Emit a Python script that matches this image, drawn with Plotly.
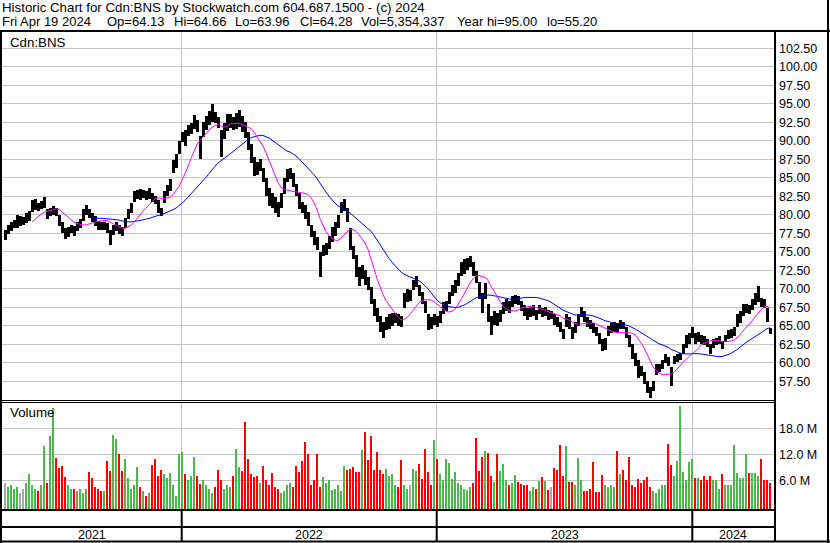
import plotly.graph_objects as go
import pandas as pd

W, H = 830, 543

# ---------------- text ----------------
title_line = "Historic Chart for Cdn:BNS by Stockwatch.com 604.687.1500 - (c) 2024"
quote_items = ["Fri Apr 19 2024", "Op=64.13", "Hi=64.66", "Lo=63.96", "Cl=64.28",
               "Vol=5,354,337", "Year hi=95.00", "lo=55.20"]
symbol_label = "Cdn:BNS"
volume_label = "Volume"

# ---------------- data (one entry per 3 trading days, Apr 2021 .. Apr 19 2024) ----------------
price_low = [
    76.6, 77.4, 77.8, 78.2, 78.3, 78.5, 78.6, 78.9, 79.2, 80.4,
    80.7, 80.6, 80.8, 81.0, 79.4, 79.8, 80.0, 79.9, 78.5, 77.6,
    76.7, 77.0, 77.5, 77.2, 77.8, 78.3, 79.2, 80.0, 79.6, 79.0,
    78.5, 78.0, 77.9, 78.0, 77.6, 76.0, 77.3, 77.8, 77.4, 77.2,
    78.2, 79.4, 80.3, 81.8, 82.2, 82.0, 82.3, 82.0, 82.2, 81.8,
    81.5, 80.2, 79.8, 81.6, 82.6, 83.2, 85.6, 86.4, 88.2, 89.8,
    89.3, 90.6, 91.0, 91.6, 91.2, 87.6, 90.5, 91.5, 92.2, 92.6,
    92.4, 91.8, 87.8, 90.2, 91.4, 91.8, 91.5, 91.6, 91.9, 91.2,
    90.4, 88.8, 87.0, 85.2, 85.4, 86.0, 84.5, 82.6, 81.2, 81.0,
    80.2, 79.7, 81.0, 82.8, 84.4, 84.8, 83.8, 82.6, 80.8, 80.2,
    79.4, 78.5, 77.0, 76.0, 75.2, 71.6, 74.4, 74.6, 75.4, 76.4,
    77.2, 78.2, 80.2, 80.6, 79.0, 75.2, 74.0, 71.6, 70.4, 71.4,
    70.6, 69.8, 68.0, 66.4, 65.6, 64.2, 63.4, 64.4, 64.6, 65.0,
    65.4, 65.0, 64.8, 67.4, 68.2, 68.4, 69.8, 70.2, 69.0, 68.0,
    66.8, 64.4, 64.6, 65.2, 64.8, 65.4, 66.6, 67.0, 68.0, 69.0,
    69.4, 70.4, 71.8, 72.0, 72.6, 73.0, 71.8, 70.8, 68.6, 66.8,
    68.6, 65.6, 63.8, 65.2, 65.0, 65.6, 66.6, 67.0, 66.8, 67.6,
    68.0, 67.8, 67.0, 66.4, 65.8, 66.2, 66.4, 65.8, 66.6, 66.2,
    66.4, 65.8, 66.0, 65.2, 64.8, 64.2, 63.2, 64.8, 64.6, 63.2,
    64.0, 65.0, 66.2, 65.6, 64.8, 64.6, 64.0, 63.6, 62.6, 61.6,
    61.8, 63.6, 64.0, 64.2, 64.0, 64.6, 64.6, 63.4, 62.2, 60.6,
    59.6, 58.0, 58.2, 57.2, 56.0, 55.3, 56.2, 58.4, 58.8, 59.2,
    60.0, 59.6, 56.9, 59.8, 60.2, 60.4, 61.2, 62.0, 62.6, 63.4,
    62.6, 62.8, 62.6, 62.4, 62.2, 61.2, 62.0, 62.4, 62.6, 61.9,
    62.8, 63.2, 63.4, 63.6, 64.8, 65.4, 66.4, 66.8, 66.6, 67.2,
    67.8, 68.2, 67.6, 67.4, 65.6, 63.96,
]
price_high = [
    77.9, 78.6, 79.0, 79.3, 80.0, 79.8, 79.7, 80.2, 80.6, 82.0,
    82.2, 81.6, 81.9, 82.4, 80.8, 81.0, 81.2, 81.0, 80.0, 79.0,
    78.2, 78.4, 78.6, 78.5, 79.0, 79.5, 80.8, 81.4, 80.8, 80.3,
    79.8, 79.2, 79.0, 79.1, 78.9, 78.0, 78.6, 79.1, 78.6, 78.4,
    79.6, 80.8, 81.6, 83.2, 83.4, 83.5, 83.4, 83.2, 83.6, 83.0,
    82.6, 82.0, 81.0, 83.2, 84.0, 84.8, 87.4, 88.2, 90.0, 91.2,
    91.5, 92.2, 92.4, 93.5, 92.8, 90.6, 92.6, 93.4, 94.0, 95.0,
    93.9, 93.3, 91.5, 92.4, 93.6, 93.6, 93.2, 93.8, 94.2, 93.4,
    92.6, 91.2, 89.6, 87.8, 87.2, 87.6, 86.4, 85.0, 83.6, 83.0,
    82.4, 81.8, 83.0, 85.0, 86.2, 86.4, 85.6, 84.2, 83.0, 81.8,
    81.4, 80.4, 78.6, 77.8, 77.0, 75.0, 76.0, 76.2, 77.2, 78.4,
    79.0, 80.0, 81.8, 82.2, 81.0, 78.2, 75.8, 74.6, 73.0, 73.2,
    72.6, 71.6, 70.2, 68.6, 67.4, 66.4, 65.6, 66.2, 66.6, 66.8,
    66.8, 66.6, 66.4, 69.4, 70.0, 69.8, 71.2, 71.8, 70.6, 69.6,
    68.4, 66.6, 66.2, 66.6, 66.4, 67.0, 68.2, 68.4, 69.6, 70.6,
    71.2, 72.2, 73.6, 74.0, 74.2, 74.4, 73.6, 72.4, 71.0, 69.4,
    70.8, 68.0, 66.4, 67.0, 66.8, 67.2, 68.2, 68.6, 68.4, 69.0,
    69.2, 69.0, 68.4, 67.8, 67.4, 67.6, 67.8, 67.2, 67.8, 67.4,
    67.6, 67.2, 67.0, 66.6, 66.2, 65.6, 64.6, 66.6, 66.2, 64.8,
    65.6, 66.6, 67.6, 67.0, 66.2, 65.8, 65.4, 64.8, 64.0, 63.2,
    63.4, 65.0, 65.4, 65.6, 65.4, 65.8, 65.6, 64.8, 63.8, 62.6,
    61.4, 60.4, 59.6, 58.8, 57.6, 56.8, 57.6, 59.8, 59.8, 60.4,
    61.2, 60.8, 59.4, 61.0, 61.2, 61.4, 62.6, 63.8, 64.0, 64.8,
    64.0, 64.2, 63.8, 63.6, 63.2, 62.6, 63.2, 63.4, 63.6, 63.0,
    63.8, 64.4, 64.6, 64.8, 66.6, 67.0, 68.0, 68.0, 67.8, 68.6,
    69.4, 70.4, 68.8, 68.6, 67.4, 64.66,
]
volume_m = [
    5.5, 4.5, 5.0, 4.0, 4.5, 3.0, 4.0, 5.5, 7.6, 5.0,
    4.0, 3.5, 5.0, 14.0, 5.5, 16.3, 22.7, 11.3, 8.9, 9.3,
    6.7, 5.0, 4.0, 4.0, 3.5, 4.0, 3.0, 4.0, 8.0, 6.5,
    4.5, 4.0, 3.5, 3.5, 10.4, 8.1, 16.5, 15.6, 12.0, 8.1,
    11.0, 6.5, 4.0, 5.0, 9.0, 4.5, 3.5, 2.5, 3.0, 9.6,
    11.0, 7.0, 8.5, 7.4, 6.5, 7.8, 5.0, 2.5, 12.0, 12.6,
    7.4, 6.0, 7.0, 11.5, 7.0, 5.2, 6.0, 5.0, 4.0, 3.0,
    4.5, 8.3, 6.0, 4.0, 5.0, 4.5, 7.0, 13.2, 9.0, 8.1,
    19.6, 11.0, 7.4, 6.7, 7.0, 5.5, 9.3, 6.0, 5.0, 7.8,
    4.5, 4.0, 3.0, 3.5, 5.0, 5.5, 4.5, 9.3, 8.0, 10.4,
    15.0, 12.2, 5.0, 6.0, 12.0, 4.5, 6.7, 5.5, 6.0, 3.7,
    4.0, 5.0, 3.5, 9.3, 8.5, 8.7, 9.0, 8.0, 8.0, 13.0,
    17.2, 10.7, 16.3, 8.5, 12.6, 8.5, 7.5, 8.6, 7.1, 7.5,
    5.0, 4.5, 10.7, 5.0, 4.0, 5.0, 8.6, 8.2, 9.8, 6.4,
    13.2, 8.0, 5.0, 15.4, 10.9, 7.5, 6.0, 10.9, 10.0, 6.4,
    7.9, 5.3, 5.0, 4.0, 3.8, 4.5, 5.5, 15.9, 8.2, 11.4,
    12.9, 12.4, 7.1, 5.6, 12.2, 8.1, 9.8, 6.0, 5.0, 5.5,
    7.3, 5.6, 5.2, 5.0, 4.9, 3.5, 4.5, 4.0, 5.9, 6.9,
    5.9, 3.8, 4.5, 8.9, 8.3, 14.3, 7.0, 13.9, 5.6, 5.6,
    5.0, 11.1, 6.0, 3.5, 3.5, 4.0, 10.2, 3.4, 3.4, 7.3,
    5.0, 4.5, 5.0, 4.5, 12.9, 7.5, 8.3, 6.0, 11.5, 5.0,
    4.5, 6.4, 5.3, 6.0, 6.8, 4.5, 3.5, 3.0, 4.0, 5.0,
    5.0, 14.5, 9.6, 7.1, 10.5, 23.3, 7.9, 6.0, 10.2, 10.9,
    6.6, 6.6, 6.0, 7.0, 6.0, 7.0, 6.0, 6.0, 4.0, 7.4,
    5.0, 5.0, 5.0, 14.3, 7.7, 6.5, 6.5, 12.0, 7.8, 7.8,
    7.8, 7.0, 10.9, 6.2, 6.2, 5.3,
]

year_labels = ["2021", "2022", "2023", "2024"]
year_bounds = [58.9, 143.9, 229.1]          # sample index where a new year begins
price_ticks = [57.5, 60.0, 62.5, 65.0, 67.5, 70.0, 72.5, 75.0, 77.5, 80.0,
               82.5, 85.0, 87.5, 90.0, 92.5, 95.0, 97.5, 100.0, 102.5]
vol_ticks = [6, 12, 18]
vol_tick_text = ["6.0 M", "12.0 M", "18.0 M"]

# ---------------- derived ----------------
n = len(price_low)
idx = list(range(n))
mid = pd.Series([(a + b) / 2 for a, b in zip(price_low, price_high)])
ma_fast = mid.rolling(10).mean()
ma_slow = mid.rolling(30).mean()
hl = [b - a for a, b in zip(price_low, price_high)]

GREEN, RED, GRAY = "#4cb84c", "#ff0000", "#a8a8a8"
vol_colors = []
for i in range(n):
    if i == 0 or mid[i] == mid[i - 1]:
        vol_colors.append(GRAY)
    elif mid[i] > mid[i - 1]:
        vol_colors.append(GREEN)
    else:
        vol_colors.append(RED)

X_LEFT, X_RIGHT = -1, n + 0.33
VOL_BASE = -0.6

def fx(px):
    return px / W

def fy(py):
    return 1 - py / H

FONT = "Liberation Sans, Arial, sans-serif"
GRID = "#c4c4c4"

fig = go.Figure()
fig.add_trace(go.Bar(x=idx, y=hl, base=price_low, width=1.0,
                     marker=dict(color="black", line=dict(width=0)),
                     xaxis="x", yaxis="y", hoverinfo="skip"))
fig.add_trace(go.Scatter(x=idx, y=ma_slow, mode="lines",
                         line=dict(color="#0000ff", width=1),
                         xaxis="x", yaxis="y", hoverinfo="skip"))
fig.add_trace(go.Scatter(x=idx, y=ma_fast, mode="lines",
                         line=dict(color="#ff00ff", width=1),
                         xaxis="x", yaxis="y", hoverinfo="skip"))
fig.add_trace(go.Bar(x=idx, y=[v - VOL_BASE for v in volume_m], base=VOL_BASE, width=0.85,
                     marker=dict(color=vol_colors, line=dict(width=0)),
                     xaxis="x2", yaxis="y2", hoverinfo="skip"))

xdom = [fx(2), fx(774)]
xcommon = dict(domain=xdom, range=[X_LEFT, X_RIGHT], showticklabels=False,
               tickvals=year_bounds, showgrid=True, gridcolor=GRID, gridwidth=1,
               zeroline=False, ticks="", showline=False, fixedrange=True)

fig.update_layout(
    width=W, height=H,
    margin=dict(l=0, r=0, t=0, b=0),
    paper_bgcolor="white", plot_bgcolor="white",
    showlegend=False, barmode="overlay", bargap=0,
    font=dict(family=FONT, size=13, color="black"),
    xaxis=dict(anchor="y", **xcommon),
    xaxis2=dict(anchor="y2", **xcommon),
    yaxis=dict(domain=[fy(400), fy(31)], range=[55.0, 104.85], side="right",
               tickvals=price_ticks, tickformat=".2f", showgrid=True, gridcolor=GRID,
               zeroline=False, ticks="", showline=False, ticklabelstandoff=4,
               tickfont=dict(family=FONT, size=12.5, color="black"), fixedrange=True),
    yaxis2=dict(domain=[fy(509), fy(403)], range=[VOL_BASE, 23.9], side="right",
                tickvals=vol_ticks, ticktext=vol_tick_text, showgrid=True, gridcolor=GRID,
                zeroline=False, ticks="", showline=False, ticklabelstandoff=4,
                tickfont=dict(family=FONT, size=12.5, color="black"), fixedrange=True),
)

# ---------------- frame lines ----------------
def hline(py, x0, x1, w):
    return dict(type="line", xref="paper", yref="paper", x0=fx(x0), x1=fx(x1),
                y0=fy(py), y1=fy(py), line=dict(color="black", width=w))

def vline(px, y0, y1, w):
    return dict(type="line", xref="paper", yref="paper", x0=fx(px), x1=fx(px),
                y0=fy(y0), y1=fy(y1), line=dict(color="black", width=w))

shapes = [
    hline(31, 0, 830, 2),
    hline(400.5, 0, 775, 1),
    hline(402.5, 0, 775, 1),
    hline(510, 0, 775, 2),
    hline(527, 0, 775, 2),
    hline(541.5, 0, 830, 2),
    vline(1, 31, 543, 2),
    vline(775, 31, 542, 2),
    vline(828, 0, 543, 2),
]
for b in year_bounds:
    shapes.append(dict(type="line", xref="x2", yref="paper", x0=b, x1=b,
                       y0=fy(511), y1=fy(541), line=dict(color="black", width=2)))
fig.update_layout(shapes=shapes)

# ---------------- annotations ----------------
HDR = 13.0
ann = []
ann.append(dict(text=title_line, x=fx(1), y=fy(8), xref="paper", yref="paper",
                xanchor="left", yanchor="middle", showarrow=False, borderpad=0,
                font=dict(family=FONT, size=13.3, color="black")))
quote_x = [1, 106, 173, 234, 299, 360, 456, 546]
for t, qx in zip(quote_items, quote_x):
    ann.append(dict(text=t, x=fx(qx), y=fy(21), xref="paper", yref="paper",
                    xanchor="left", yanchor="middle", showarrow=False, borderpad=0,
                    font=dict(family=FONT, size=HDR, color="black")))
ann.append(dict(text=symbol_label, x=fx(8), y=fy(42), xref="paper", yref="paper",
                xanchor="left", yanchor="middle", showarrow=False,
                font=dict(family=FONT, size=13.3, color="black")))
ann.append(dict(text=volume_label, x=fx(8), y=fy(413), xref="paper", yref="paper",
                xanchor="left", yanchor="middle", showarrow=False,
                font=dict(family=FONT, size=13.3, color="black")))
edges = [X_LEFT] + year_bounds + [X_RIGHT]
for i, lab in enumerate(year_labels):
    ann.append(dict(text=lab, x=(edges[i] + edges[i + 1]) / 2, y=fy(535), xref="x2",
                    yref="paper", xanchor="center", yanchor="middle", showarrow=False,
                    font=dict(family=FONT, size=12.5, color="black")))
fig.update_layout(annotations=ann)

fig.write_html(
    "out.html",
    config={"displayModeBar": False},
    post_script="document.body.style.margin='0px';document.body.style.padding='0px';"
                "document.body.style.overflow='hidden';",
)
